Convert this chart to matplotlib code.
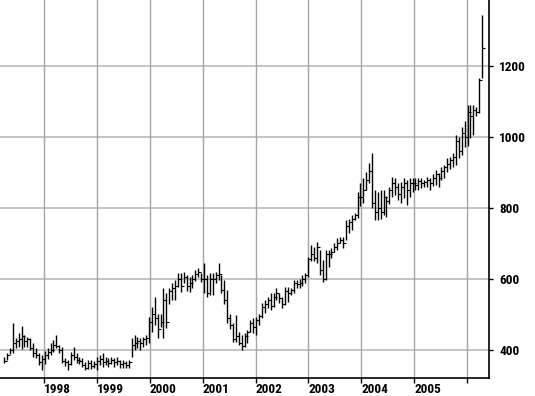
import pandas as pd
import matplotlib
matplotlib.use("Agg")
import matplotlib.pyplot as plt
import matplotlib.transforms as mtransforms
from matplotlib import font_manager

# bar-by-bar price readings (high / low / close), one bar every 20 days from April 1997
highs = [
    381, 392, 405, 477, 435, 448, 467, 442, 437, 433, 419, 405, 391, 385,
    398, 405, 420, 428, 442, 414, 409, 377, 372, 395, 409, 391, 381, 377, 365, 372, 372, 368,
    381, 386, 391, 381, 377, 381, 377, 381, 372, 372, 370, 372, 433, 442, 437, 433, 437, 442, 493,
    520, 549, 500, 500, 575, 560, 575, 589, 597, 617, 617, 620, 610, 606, 611, 625, 631, 617,
    645, 611, 617, 617, 620, 645, 612, 597, 569, 500, 476, 499, 451, 442, 448, 455, 484, 490,
    493, 500, 532, 540, 549, 560, 560, 575, 560, 549, 577, 577, 575, 597, 597, 600, 611, 617,
    662, 696, 690, 704, 682, 653, 682, 682, 687, 701, 715, 718, 718, 766, 770, 780, 786, 845,
    870, 884, 900, 926, 955, 850, 845, 850, 850, 835, 860, 887, 884, 870, 873, 884, 879, 884,
    884, 884, 884, 884, 880, 887, 885, 895, 907, 898, 915, 921, 940, 945, 955, 1006, 1000, 1029,
    1046, 1090, 1090, 1090, 1085, 1166, 1344,
]
lows = [
    362, 372, 388, 392, 405, 408, 403, 409, 408, 400, 381, 377, 358, 344,
    360, 375, 385, 395, 405, 392, 363, 356, 344, 358, 372, 364, 360, 352, 344, 347, 345, 349,
    344, 358, 353, 358, 353, 360, 353, 358, 349, 349, 349, 349, 380, 400, 405, 400, 409, 414, 419,
    450, 470, 433, 465, 433, 462, 530, 540, 541, 577, 563, 589, 565, 563, 575, 595, 606, 592,
    560, 549, 555, 555, 590, 597, 560, 530, 476, 460, 422, 422, 415, 400, 409, 419, 451, 448,
    442, 470, 490, 505, 518, 513, 520, 541, 532, 518, 527, 535, 555, 560, 575, 575, 580, 589,
    606, 650, 650, 645, 610, 592, 597, 634, 660, 676, 682, 700, 687, 710, 730, 738, 766, 772,
    805, 814, 850, 870, 800, 766, 766, 770, 780, 775, 810, 831, 836, 822, 814, 828, 808, 831,
    845, 850, 850, 856, 860, 859, 850, 862, 864, 859, 880, 884, 900, 910, 915, 921, 940, 949,
    972, 975, 997, 1006, 1060, 1068, 1166,
]
closes = [
    368, 385, 400, 420, 425, 430, 440, 425, 430, 405, 390, 385, 365, 375,
    385, 395, 400, 415, 410, 400, 370, 365, 360, 385, 380, 372, 368, 358, 350, 362, 355, 360,
    370, 375, 365, 370, 362, 372, 365, 368, 360, 362, 358, 365, 415, 420, 425, 420, 430, 435, 480,
    500, 490, 460, 480, 540, 480, 565, 575, 580, 600, 580, 605, 580, 590, 600, 615, 620, 600,
    600, 560, 600, 600, 610, 615, 570, 540, 490, 470, 430, 440, 420, 410, 440, 450, 475, 465,
    485, 495, 520, 530, 540, 525, 550, 560, 545, 530, 565, 560, 570, 590, 585, 590, 600, 610,
    655, 670, 660, 690, 625, 600, 670, 670, 675, 690, 700, 710, 700, 750, 760, 770, 780, 830,
    830, 850, 880, 905, 815, 790, 800, 790, 830, 820, 850, 870, 860, 840, 860, 870, 850, 870,
    870, 865, 875, 870, 872, 878, 870, 885, 895, 885, 905, 915, 925, 935, 945, 990, 960, 1010,
    1000, 1070, 1060, 1075, 1070, 1160, 1250,
]
dates = pd.date_range("1997-04-01", periods=len(highs), freq="20D")

year_ticks = pd.date_range("1998-01-01", "2006-01-01", freq="YS")
year_labels = [str(d.year) for d in year_ticks[:-1]] + [""]
price_ticks = [400, 600, 800, 1000, 1200]

# a condensed face if there is one, else a plain sans
installed = {f.name for f in font_manager.fontManager.ttflist}
font = [f for f in ("Liberation Sans Narrow", "DejaVu Sans Condensed", "Roboto Condensed")
        if f in installed] + ["Roboto", "DejaVu Sans"]

fig = plt.figure(figsize=(5.35, 3.96), dpi=100)
ax = fig.add_axes([0.0, 0.0455, 0.914, 0.9545])

# grid first so the bars sit on top
for t in price_ticks:
    ax.axhline(t, color="#c4c4c4", lw=1.4, zorder=1)
for d in year_ticks:
    ax.axvline(d, color="#a6a6a6", lw=1.0, zorder=1)

ax.vlines(dates, lows, highs, color="black", lw=1.0, zorder=3)
ax.plot(dates, closes, linestyle="none", marker=1, markersize=2,
        markeredgewidth=0.8, color="black", zorder=3)

ax.set_xlim(pd.Timestamp("1997-03-03"), pd.Timestamp("2006-06-01"))
ax.set_ylim(321, 1386)

ax.yaxis.tick_right()
ax.set_yticks(price_ticks)
ax.set_yticklabels([str(t) for t in price_ticks], family=font, fontsize=9.5, weight="bold")
ax.set_xticks(year_ticks)
ax.set_xticklabels(year_labels, family=font, fontsize=9.5, weight="bold", ha="left")
offset = mtransforms.ScaledTranslation(3 / 100, 0, fig.dpi_scale_trans)
for lbl in ax.get_xticklabels():
    lbl.set_transform(lbl.get_transform() + offset)

ax.tick_params(axis="y", direction="out", length=3, width=1, pad=4.5)
ax.tick_params(axis="x", direction="out", length=3.6, width=1, pad=0)

for side in ("top", "left"):
    ax.spines[side].set_visible(False)
ax.spines["right"].set_linewidth(1.2)
ax.spines["bottom"].set_linewidth(1.2)

fig.savefig("out.png", dpi=100)
